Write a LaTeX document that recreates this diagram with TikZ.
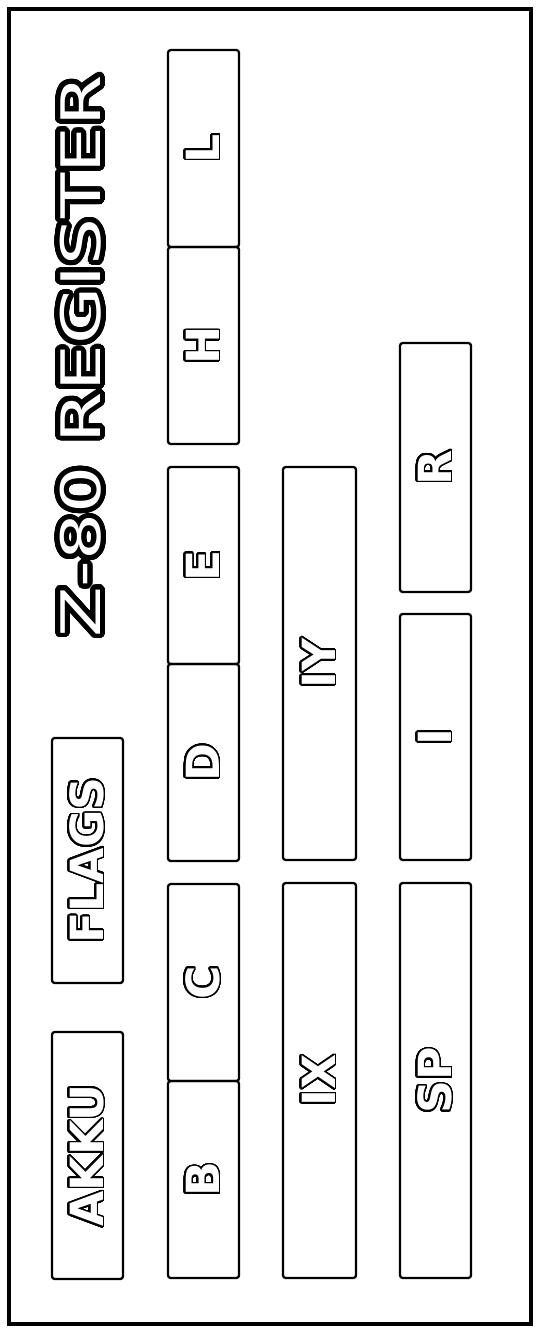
\documentclass[tikz,border=0pt]{standalone}
\usepackage{fontspec}
\usepackage{contour}
\usetikzlibrary{positioning}
\setmainfont{DejaVu Sans}
\newfontfamily\titlefont[FakeStretch=1.36]{DejaVu Sans}
\contournumber{48}

% outlined label, written upwards
\newcommand{\reglabel}[1]{\rotatebox{90}{\contourlength{0.9pt}\contour{black}{\textcolor{white}{#1}}}}

\begin{document}
\begin{tikzpicture}[x=0.02cm, y=-0.02cm,
    % Define a style for the register boxes
    reg/.style={draw=black, line width=1.3pt, rounded corners=1.5pt, outer sep=0pt, inner sep=0pt,
        minimum width=1.42cm, font=\fontsize{26}{30}\selectfont\bfseries},
    frame/.style={draw=black, line width=2.5pt}
]

    % Fix the page and draw the outer frame
    \useasboundingbox (0,0) rectangle (536,1328);
    \draw[frame] (9,9) rectangle (531,1324);

    % Title
    \node (title) at (83,356) {\rotatebox{90}{\contourlength{2.8pt}\contour{black}{\textcolor{white}{\titlefont\fontsize{31}{36}\selectfont Z-80 REGISTER}}}};

    % Accumulator and flags
    \node[reg, minimum height=4.94cm] (AKKU) at (87.5,1155.5) {\reglabel{AKKU}};
    \node[reg, minimum height=4.9cm] (FLAGS) at (87.5,860.5) {\reglabel{FLAGS}};

    % Register pairs, low byte above the high byte
    \foreach \hi/\lo/\y in {B/C/1179.5, D/E/762.5, H/L/345.5} {
        \node[reg, minimum height=3.94cm] (\hi) at (203.5,\y) {\reglabel{\hi}};
        \node[reg, minimum height=3.94cm, above=0pt of \hi] (\lo) {\reglabel{\lo}};
    }

    % Index registers
    \node[reg, minimum width=1.46cm, minimum height=7.9cm] (IX) at (319.5,1080.5) {\reglabel{IX}};
    \node[reg, minimum width=1.46cm, minimum height=7.86cm] (IY) at (319.5,663.5) {\reglabel{IY}};

    % Stack pointer, interrupt and refresh
    \node[reg, minimum height=7.9cm] (SP) at (435.5,1080.5) {\reglabel{SP}};
    \node[reg, minimum height=4.92cm] (I) at (435.5,737) {\reglabel{I}};
    \node[reg, minimum height=4.98cm] (R) at (435.5,467.5) {\reglabel{R}};

\end{tikzpicture}
\end{document}
